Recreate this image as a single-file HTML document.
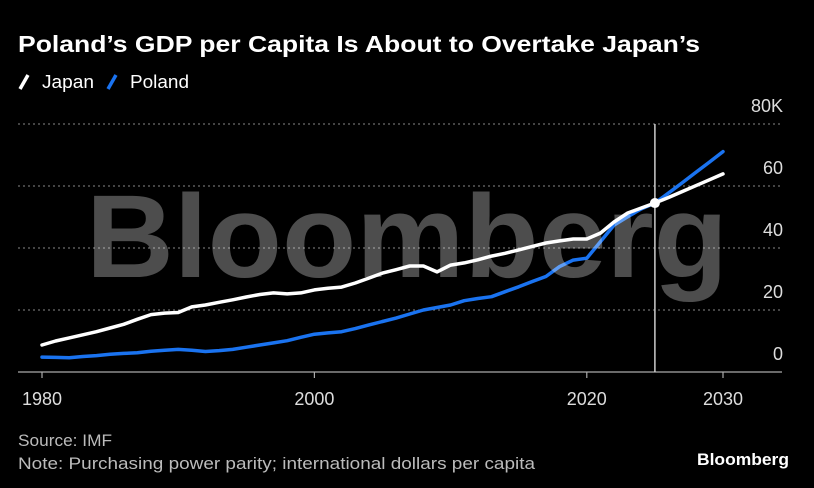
<!DOCTYPE html>
<html><head><meta charset="utf-8"><style>
html,body{margin:0;padding:0;background:#000;}
svg{display:block;font-family:"Liberation Sans Narrow","Liberation Sans",sans-serif;}
</style></head><body>
<svg width="814" height="488" viewBox="0 0 814 488">
<rect width="814" height="488" fill="#000"/>
<text x="18" y="52" fill="#fff" font-size="23" font-weight="bold" textLength="682" lengthAdjust="spacingAndGlyphs">Poland’s GDP per Capita Is About to Overtake Japan’s</text>
<g>
<line x1="20" y1="89" x2="28" y2="75" stroke="#fff" stroke-width="3.5"/>
<text x="42" y="88" fill="#fff" font-size="18" textLength="52" lengthAdjust="spacingAndGlyphs">Japan</text>
<line x1="108" y1="89" x2="116" y2="75" stroke="#1a73f0" stroke-width="3.5"/>
<text x="130" y="88" fill="#fff" font-size="18" textLength="59" lengthAdjust="spacingAndGlyphs">Poland</text>
</g>
<g id="grid"></g>
<g id="series"></g>
<text x="86" y="277" fill="#fff" fill-opacity="0.3" font-family="Liberation Sans,sans-serif" font-size="118" font-weight="bold" textLength="642" lengthAdjust="spacingAndGlyphs">Bloomberg</text>
<g id="overlay"></g>
<text x="18" y="446" fill="#bbb" font-size="17" textLength="94" lengthAdjust="spacingAndGlyphs">Source: IMF</text>
<text x="18" y="469" fill="#bbb" font-size="17" textLength="517" lengthAdjust="spacingAndGlyphs">Note: Purchasing power parity; international dollars per capita</text>
<text x="697" y="465" fill="#fff" font-family="Liberation Sans,sans-serif" font-size="17" font-weight="bold" textLength="92" lengthAdjust="spacingAndGlyphs">Bloomberg</text>
</svg>
<script>
const years=[1980,1981,1982,1983,1984,1985,1986,1987,1988,1989,1990,1991,1992,1993,1994,1995,1996,1997,1998,1999,2000,2001,2002,2003,2004,2005,2006,2007,2008,2009,2010,2011,2012,2013,2014,2015,2016,2017,2018,2019,2020,2021,2022,2023,2024,2025,2026,2027,2028,2029,2030];
const japan=[8.7,10,11,12,13,14.2,15.4,17,18.5,19,19.2,21,21.6,22.5,23.3,24.2,25,25.5,25.2,25.5,26.5,27,27.4,28.7,30.3,31.9,33,34.2,34.2,32.3,34.5,35.2,36.2,37.4,38.3,39.4,40.5,41.6,42.3,42.9,42.9,44.8,48.4,51.3,52.9,54.5,56.3,58.2,60.1,62,63.9];
const poland=[4.8,4.7,4.6,5,5.3,5.7,6,6.2,6.7,7,7.3,7,6.6,6.9,7.3,8,8.7,9.4,10.1,11.2,12.2,12.6,13,14,15.2,16.3,17.4,18.7,20,20.8,21.6,23,23.7,24.3,25.9,27.5,29.2,30.8,34,36.1,36.7,42,47.4,50.1,52.6,54.5,57.7,61,64.4,67.7,71.1];
const yTicks=[0,20,40,60,80];
const yTickLabels=['0','20','40','60','80K'];
const xTicks=[1980,2000,2020,2030];
const highlightYear=2025;
const NS='http://www.w3.org/2000/svg';
const x=v=>42+(v-1980)*(723-42)/50;
const y=v=>372-v*3.1;
function mk(tag,attrs,parent){const e=document.createElementNS(NS,tag);for(const k in attrs)e.setAttribute(k,attrs[k]);parent.appendChild(e);return e;}
const grid=document.getElementById('grid'),series=document.getElementById('series'),ov=document.getElementById('overlay');
yTicks.forEach((t,i)=>{
 if(t>0){const l=mk('line',{x1:18,x2:782,y1:y(t),y2:y(t),stroke:'#888','stroke-width':1,'stroke-dasharray':'2,3'},grid);
 
 }
 const tx=mk('text',{x:783,y:y(t)-12,fill:'#ddd','font-size':18,'text-anchor':'end'},grid);
 tx.textContent=yTickLabels[i];
 
 
});
const ax=mk('line',{x1:18,x2:782,y1:372,y2:372,stroke:'#aaa','stroke-width':1.2},grid);


xTicks.forEach(t=>{
 const tk=mk('line',{x1:x(t),x2:x(t),y1:372,y2:378,stroke:'#aaa','stroke-width':1.2},grid);
 
 
 const tx=mk('text',{x:x(t),y:405,fill:'#ddd','font-size':18,'text-anchor':'middle'},grid);
 tx.textContent=t;
 
 
});
const vl=mk('line',{x1:x(highlightYear),x2:x(highlightYear),y1:124,y2:372,stroke:'#ccc','stroke-width':1.5},grid);


function path(vals,color,name){
 const d=vals.map((v,i)=>(i?'L':'M')+x(years[i]).toFixed(1)+','+y(v).toFixed(1)).join('');
 const p=mk('path',{d:d,fill:'none',stroke:color,'stroke-width':3.5,'stroke-linejoin':'round','stroke-linecap':'round'},series);
 
 
}
path(poland,'#1a73f0','poland-line');
path(japan,'#fff','japan-line');
const hi=years.indexOf(highlightYear);
const dot=mk('circle',{cx:x(highlightYear),cy:y(japan[hi]),r:5,fill:'#fff'},ov);


</script>
</body></html>
